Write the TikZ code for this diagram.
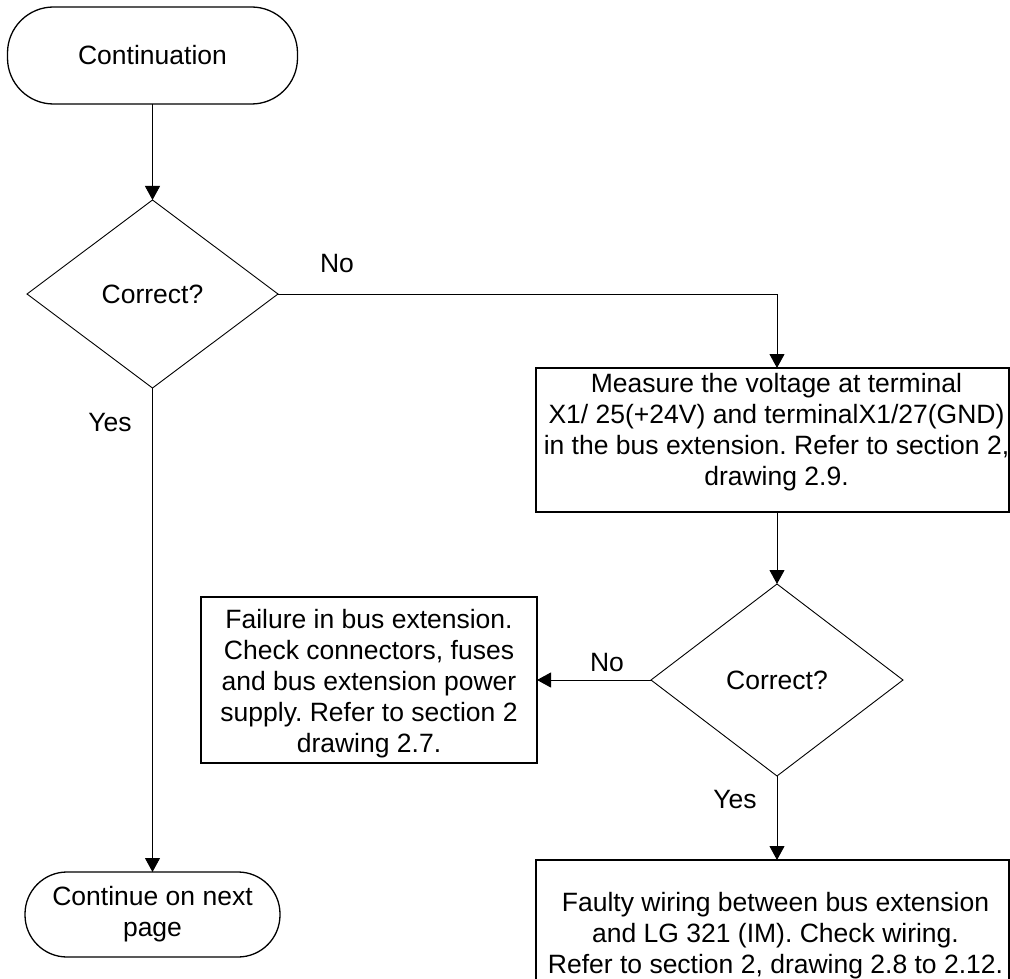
\documentclass[tikz,border=0pt]{standalone}
\usepackage{fontspec}
\setmainfont{Liberation Sans}
\frenchspacing
\usetikzlibrary{shapes.geometric,arrows.meta}
\begin{document}
\begin{tikzpicture}[x=1pt,y=-1pt,
  every node/.style={font=\fontsize{26.5}{31}\selectfont, inner sep=0pt, outer sep=0pt},
  terminal/.style={draw, line width=1.3pt, rounded corners=#1, align=center},
  decision/.style={draw, diamond, line width=0.9pt, inner sep=0pt},
  process/.style={draw, rectangle, line width=1.3pt},
  boxtext/.style={align=center},
  conn/.style={draw, line width=0.9pt, -{Triangle[length=14pt,width=15pt]}},
  lbl/.style={}
]
\clip (0,0) rectangle (1010,979);

% start and end terminals
\node[terminal=46pt, minimum width=290pt, minimum height=97pt] (start) at (152.5,55.5) {Continuation};
\node[terminal=42pt, minimum width=255pt, minimum height=85pt] (end) at (152.5,914.5)
  {\fontsize{26.5}{30}\selectfont Continue on next\\page};

% decisions
\node[decision, minimum width=251pt, minimum height=188pt] (d1) at (152.5,294) {Correct?};
\node[decision, minimum width=252pt, minimum height=192pt] (d2) at (777,680) {Correct?};

% process boxes
\node[process, minimum width=473pt, minimum height=144pt] (b1) at (772.5,440) {};
\node[boxtext] (t1) at (776.5,432)
  {\fontsize{26.5}{30}\selectfont Measure the voltage at terminal\\
   X1/ 25(+24V) and terminalX1/27(GND)\\
   in the bus extension. Refer to section 2,\\
   drawing 2.9.};

\node[process, minimum width=336pt, minimum height=166pt] (b2) at (369,680) {};
\node[boxtext] (t2) at (369,684)
  {\fontsize{26.5}{33}\selectfont Failure in bus extension.\\
   Check connectors, fuses\\
   and bus extension power\\
   supply. Refer to section 2\\
   drawing 2.7.};

\node[process, minimum width=473pt, minimum height=140pt] (b3) at (772.5,930) {};
\node[boxtext] (t3) at (775.5,935.5)
  {\fontsize{26.5}{31.5}\selectfont Faulty wiring between bus extension\\
   and LG 321 (IM). Check wiring.\\
   Refer to section 2, drawing 2.8 to 2.12.};

% connectors
\draw[conn] (start.south) -- (d1.north);
\draw[conn] (d1.east) -| (b1.north -| d2.north);
\draw[conn] (b1.south -| d2.north) -- (d2.north);
\draw[conn] (d2.west) -- (b2.east);
\draw[conn] (d2.south) -- (b3.north -| d2.south);
\draw[conn] (d1.south) -- (end.north);

% branch labels
\node[lbl] (no1) at (337,264) {No};
\node[lbl] (yes1) at (110,423) {Yes};
\node[lbl] (no2) at (607,663) {No};
\node[lbl] (yes2) at (735,800) {Yes};
\end{tikzpicture}
\end{document}
